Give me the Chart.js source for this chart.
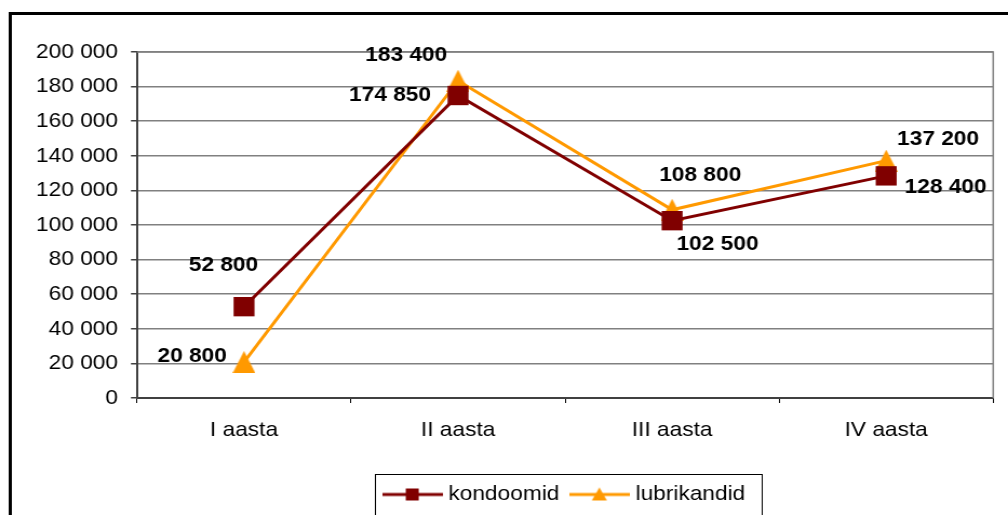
<!DOCTYPE html>
<html>
<head>
<meta charset="utf-8">
<script src="https://cdn.jsdelivr.net/npm/chart.js@4/dist/chart.umd.min.js"></script>
<style>
    html, body { margin: 0; padding: 0; background: #fff; overflow: hidden; }
    #wrap { width: 1008px; height: 515px; overflow: hidden; }
    /* originaal on horisontaalselt venitatud */
    #graafik { transform: scaleX(1.0804); transform-origin: 0 0; }
</style>
</head>
<body>
<div id="wrap">
    <canvas id="graafik" width="933" height="515"></canvas>
</div>
<script>
let aastad = ["I aasta", "II aasta", "III aasta", "IV aasta"];
let kondoomid = [52800, 174850, 102500, 128400];
let lubrikandid = [20800, 183400, 108800, 137200];
let yTicks = [0, 20000, 40000, 60000, 80000, 100000, 120000, 140000, 160000, 180000, 200000];

let punane = "#800000";
let oranz = "#FF9900";
let font = "'Liberation Sans', Arial, sans-serif";

function vorminda(n) {
    return String(n).replace(/\B(?=(\d{3})+(?!\d))/g, " ");
}

// silt punkti suhtes (teksti keskpunkt)
let siltideNihe = [
    [[-19, -41], [-63, 0], [42, 24], [55, 11]],
    [[-48, -6], [-48, -26], [26, -35], [48, -21]]
];

function kolmnurk(varv, w, h) {
    let c = document.createElement("canvas");
    c.width = w;
    c.height = h;
    let g = c.getContext("2d");
    g.fillStyle = varv;
    g.beginPath();
    g.moveTo(w / 2, 0);
    g.lineTo(w, h);
    g.lineTo(0, h);
    g.closePath();
    g.fill();
    return c;
}

function legendiPilt(varv, stiil) {
    let c = document.createElement("canvas");
    c.width = 56;
    c.height = 24;
    let g = c.getContext("2d");
    g.strokeStyle = varv;
    g.lineWidth = 3;
    g.beginPath();
    g.moveTo(0, 12);
    g.lineTo(56, 12);
    g.stroke();
    g.fillStyle = varv;
    if (stiil === "rect") {
        g.fillRect(22, 6, 12, 12);
    } else {
        g.beginPath();
        g.moveTo(28, 5);
        g.lineTo(35, 18);
        g.lineTo(21, 18);
        g.closePath();
        g.fill();
    }
    return c;
}

let raamPlugin = {
    id: "raam",
    afterLayout(chart) {
        // legend originaalis veidi paremal
        let lg = chart.legend;
        lg.left = 122.7;
        lg.width = lg.right - lg.left;
    },
    beforeDraw(chart) {
        let ctx = chart.ctx;
        ctx.save();
        ctx.strokeStyle = "#000";
        ctx.lineWidth = 3;
        ctx.strokeRect(9.5, 13.5, 1200, 700);
        ctx.restore();
    },
    beforeDatasetsDraw(chart) {
        let a = chart.chartArea;
        let ctx = chart.ctx;
        ctx.save();
        ctx.strokeStyle = "#808080";
        ctx.lineWidth = 1.5;
        ctx.beginPath();
        ctx.moveTo(a.left, a.top);
        ctx.lineTo(a.right, a.top);
        ctx.lineTo(a.right, a.bottom);
        ctx.stroke();
        ctx.restore();
    },
    afterDraw(chart) {
        let ctx = chart.ctx;
        ctx.save();
        ctx.font = "bold 21px " + font;
        ctx.fillStyle = "#000";
        ctx.textAlign = "center";
        ctx.textBaseline = "middle";
        chart.data.datasets.forEach((ds, i) => {
            chart.getDatasetMeta(i).data.forEach((p, j) => {
                let n = siltideNihe[i][j];
                ctx.fillText(vorminda(ds.data[j]), p.x + n[0], p.y + n[1]);
            });
        });

        let kastid = chart.legend.legendHitBoxes;
        if (kastid && kastid.length) {
            let viimane = kastid[kastid.length - 1];
            let vasak = kastid[0].left - 11.5;
            let parem = viimane.left + viimane.width + 15;
            ctx.strokeStyle = "#000";
            ctx.lineWidth = 1;
            ctx.strokeRect(Math.round(vasak) + 0.5, 474.5, Math.round(parem - vasak), 100);
        }
        ctx.restore();
    }
};

let ctx = document.getElementById("graafik").getContext("2d");
window.myChart = new Chart(ctx, {
    type: "line",
    data: {
        labels: aastad,
        datasets: [{
            label: "kondoomid",
            data: kondoomid,
            borderColor: punane,
            backgroundColor: punane,
            borderWidth: 3,
            pointStyle: "rect",
            pointRadius: 13.7,
            pointHoverRadius: 13.7,
            pointBorderWidth: 0,
            tension: 0
        }, {
            label: "lubrikandid",
            data: lubrikandid,
            borderColor: oranz,
            backgroundColor: oranz,
            borderWidth: 3,
            pointStyle: kolmnurk(oranz, 21, 22),
            pointRadius: 11,
            pointHoverRadius: 11,
            pointBorderWidth: 0,
            tension: 0
        }]
    },
    options: {
        responsive: false,
        animation: false,
        layout: {
            padding: { left: 0, top: 52, right: 7.4, bottom: 0 }
        },
        scales: {
            x: {
                offset: true,
                grid: {
                    offset: true,
                    drawOnChartArea: false,
                    drawTicks: true,
                    tickLength: 5,
                    color: "#000"
                },
                border: { color: "#404040", width: 2 },
                ticks: {
                    color: "#000",
                    padding: 15,
                    font: { family: font, size: 21 }
                },
                afterFit: function (scale) {
                    scale.height = 72;
                }
            },
            y: {
                min: 0,
                max: 200000,
                afterBuildTicks: function (scale) {
                    scale.ticks = yTicks.map(v => ({ value: v }));
                },
                grid: {
                    color: "#808080",
                    lineWidth: 1.5,
                    tickLength: 5.6,
                    tickColor: "#404040"
                },
                border: { color: "#404040", width: 2 },
                ticks: {
                    color: "#000",
                    padding: 12,
                    font: { family: font, size: 21 },
                    callback: function (value) {
                        return vorminda(value);
                    }
                },
                afterFit: function (scale) {
                    scale.width = 126.8;
                }
            }
        },
        plugins: {
            legend: {
                position: "bottom",
                labels: {
                    usePointStyle: true,
                    pointStyleWidth: 46,
                    padding: 14,
                    color: "#000",
                    font: { family: font, size: 21 },
                    generateLabels: function (chart) {
                        return chart.data.datasets.map((ds, i) => ({
                            text: ds.label,
                            datasetIndex: i,
                            fontColor: "#000",
                            pointStyle: legendiPilt(ds.borderColor, i === 0 ? "rect" : "triangle"),
                            lineWidth: 0,
                            hidden: false
                        }));
                    }
                }
            },
            tooltip: { enabled: false }
        }
    },
    plugins: [raamPlugin]
});
</script>
</body>
</html>
